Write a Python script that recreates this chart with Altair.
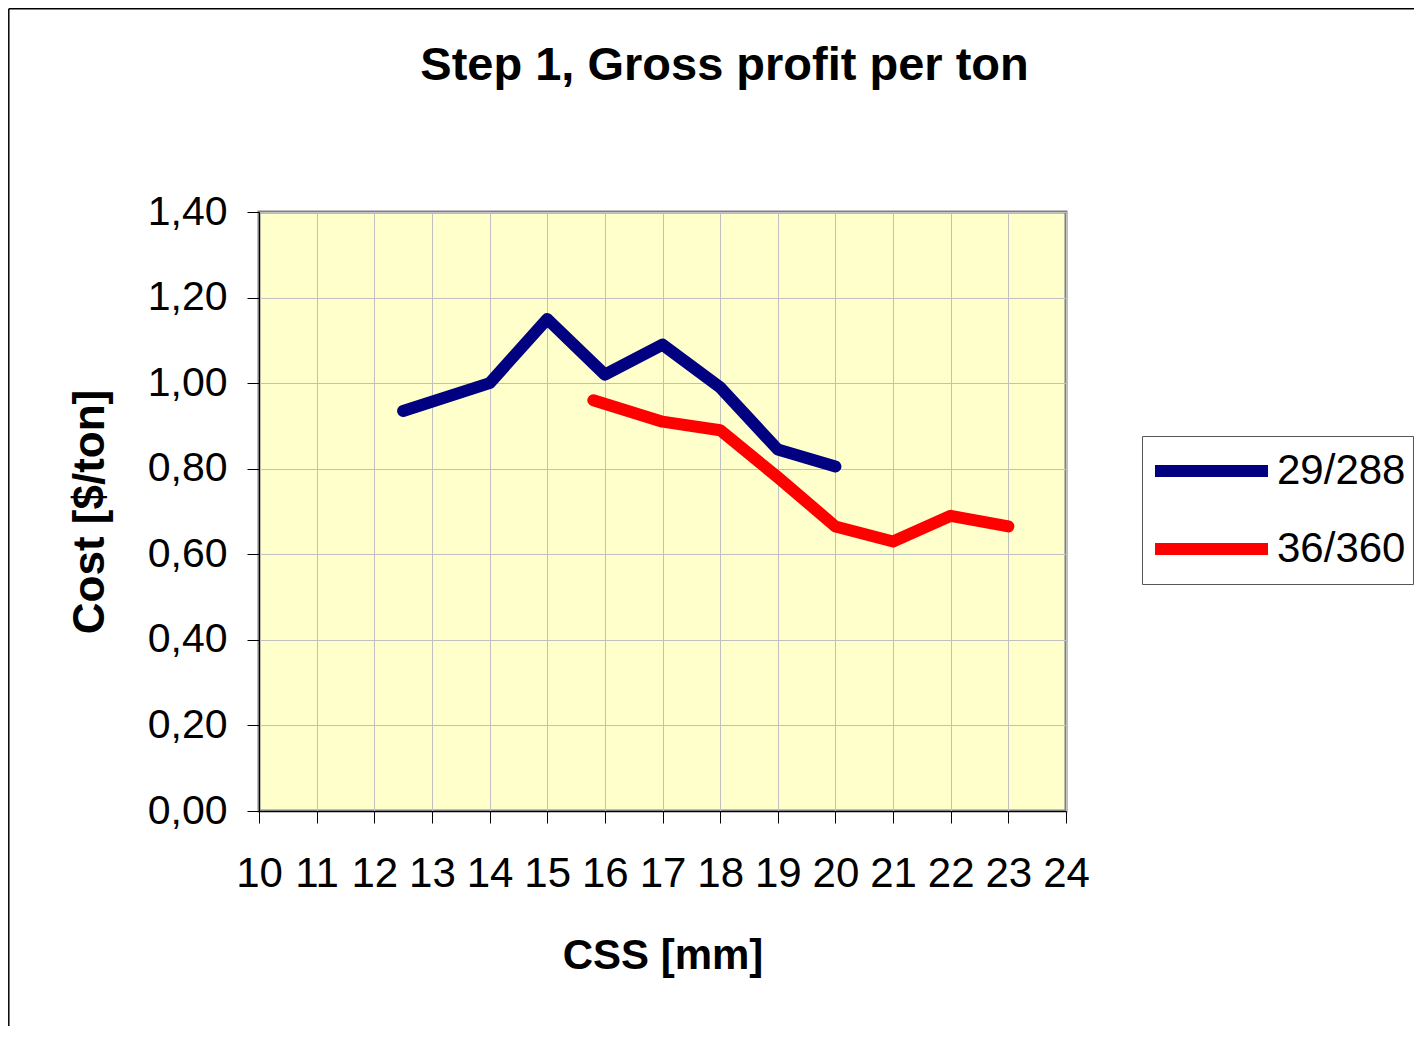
import altair as alt
import pandas as pd

# ---- data ----
series_names = ["29/288", "36/360"]
css_29 = [12.5, 14, 15, 16, 17, 18, 19, 20]
cost_29 = [0.935, 1.00, 1.15, 1.02, 1.09, 0.99, 0.845, 0.805]
css_36 = [15.8, 17, 18, 19, 20, 21, 22, 23]
cost_36 = [0.96, 0.91, 0.89, 0.78, 0.665, 0.63, 0.69, 0.665]
x_ticks = list(range(10, 25))
y_ticks = [0.0, 0.2, 0.4, 0.6, 0.8, 1.0, 1.2, 1.4]
colors = ["#000080", "#FF0000"]

rows = []
for x, y in zip(css_29, cost_29):
    rows.append({"css": x, "cost": y, "series": series_names[0]})
for x, y in zip(css_36, cost_36):
    rows.append({"css": x, "cost": y, "series": series_names[1]})
df = pd.DataFrame(rows)

FONT = "Liberation Sans"

lines = alt.Chart(df).mark_line(
    strokeWidth=12, strokeCap="round", strokeJoin="round"
).encode(
    x=alt.X(
        "css:Q",
        scale=alt.Scale(domain=[10, 24], nice=False, zero=False),
        axis=alt.Axis(
            values=x_ticks, format="d", title="CSS [mm]",
            labelFont=FONT, labelFontSize=42, labelColor="black", labelPadding=30,
            labelOverlap=False, labelFlush=False,
            tickSize=12, tickColor="black", domainColor="black",
            grid=True, gridColor="#C0C0C0", gridWidth=1,
            titleFont=FONT, titleFontSize=42, titleFontWeight="bold", titleColor="black",
            titleX=403.5, titleY=157, titleBaseline="alphabetic", titleAlign="center",
        ),
    ),
    y=alt.Y(
        "cost:Q",
        scale=alt.Scale(domain=[0, 1.4], nice=False),
        axis=alt.Axis(
            values=y_ticks, labelExpr="replace(format(datum.value, '.2f'), '.', ',')",
            title="Cost [$/ton]",
            labelFont=FONT, labelFontSize=41, labelColor="black", labelPadding=20,
            labelOverlap=False, labelFlush=False,
            tickSize=12, tickColor="black", domainColor="black",
            grid=True, gridColor="#C0C0C0", gridWidth=1,
            titleFont=FONT, titleFontSize=44, titleFontWeight="bold", titleColor="black",
            titleAngle=270, titleX=-156, titleY=299.5, titleBaseline="alphabetic",
            titleAlign="center",
        ),
    ),
    color=alt.Color(
        "series:N",
        scale=alt.Scale(domain=series_names, range=colors),
        legend=alt.Legend(
            title=None, orient="none", legendX=883, legendY=224,
            symbolType="stroke", symbolSize=12769, symbolStrokeWidth=12,
            labelFont=FONT, labelFontSize=42, labelColor="black", labelOffset=3,
            padding=7, fillColor="white", strokeColor="#555555",
            clipHeight=56, rowPadding=22, labelLimit=400,
        ),
    ),
)

frame_data = alt.Data(values=[{"k": 1}])
frame_left = alt.Chart(frame_data).mark_rule(color="black", strokeWidth=1.5).encode(
    x=alt.value(-250.2), y=alt.value(-203.2), y2=alt.value(830)
)
frame_top = alt.Chart(frame_data).mark_rule(color="black", strokeWidth=1.5).encode(
    x=alt.value(-250.2), x2=alt.value(1160), y=alt.value(-203.2)
)

chart = alt.layer(lines, frame_left, frame_top).properties(
    width=807,
    height=599,
    autosize="none",
    background="white",
    padding={"left": 251, "top": 204, "right": 348, "bottom": 215},
    title=alt.TitleParams(
        "Step 1, Gross profit per ton", font=FONT, fontSize=47, fontWeight="bold",
        color="black", anchor="middle", dx=62, offset=-119, baseline="alphabetic",
    ),
).configure_view(
    fill="#FFFFCC", stroke="#808080", strokeWidth=3
)

chart.save("out.html", embed_options={"renderer": "svg", "actions": False})
